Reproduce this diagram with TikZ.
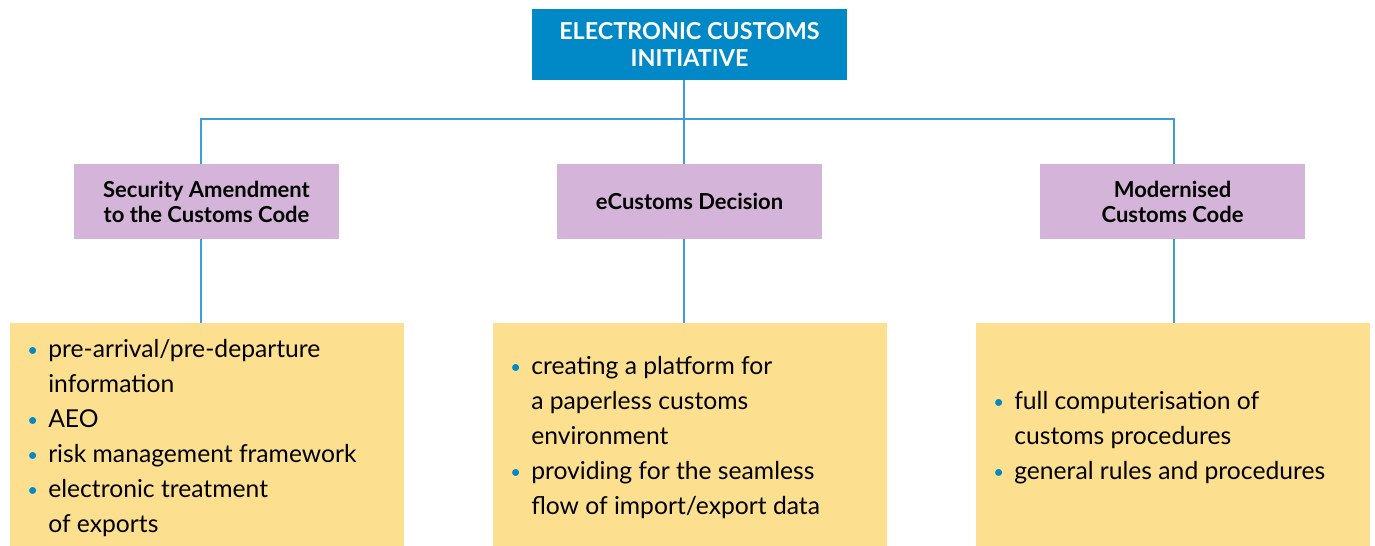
\documentclass[tikz,border=0pt]{standalone}
\usepackage{fontspec}
\setmainfont{Lato}
\definecolor{topblue}{HTML}{0088C7}
\definecolor{lineblue}{HTML}{3D9DD8}
\definecolor{lilac}{HTML}{D4B4D8}
\definecolor{sand}{HTML}{FDE08F}
\newcommand{\bul}{\makebox[15.75pt][l]{\raisebox{1pt}{\textcolor{topblue}{\scalebox{0.75}{\textbullet}}}}}
\newcommand{\ind}{\hspace*{15.75pt}}
\tikzset{
  topbox/.style={fill=topblue, text=white, font=\fontsize{17.5}{20.25}\selectfont\bfseries, align=center, minimum width=236.25pt, minimum height=53.25pt, inner sep=0pt},
  midbox/.style={fill=lilac, text=black, font=\fontsize{16.5}{18.75}\selectfont\bfseries, align=center, minimum width=198.75pt, minimum height=56.25pt, inner sep=0pt},
  listbox/.style={fill=sand, minimum width=295.5pt, minimum height=167.25pt, inner sep=0pt},
  listtext/.style={anchor=west, align=left, inner sep=0pt, font=\fontsize{18.5}{26.25}\selectfont},
  conn/.style={draw=lineblue, line width=1.125pt}
}
\begin{document}
\begin{tikzpicture}[x=0.75pt, y=-0.75pt]
\useasboundingbox (0,0) rectangle (1375,546);
\node[topbox] (top) at (689.5,44.5) {ELECTRONIC CUSTOMS\\INITIATIVE};
\node[midbox] (sa) at (206.5,201.5) {Security Amendment\\to the Customs Code};
\node[midbox] (ec) at (689.5,201.5) {eCustoms Decision};
\node[midbox] (mc) at (1172.5,201.5) {Modernised\\Customs Code};
\node[listbox] (y1) at (207,434.5) {};
\node[listbox] (y2) at (690,434.5) {};
\node[listbox] (y3) at (1173,434.5) {};
\coordinate (j) at (684,119);
\coordinate (cl) at (201,0);
\coordinate (cr) at (1174,0);
\draw[conn] (top.south -| j) -- (j);
\draw[conn] (sa.north -| cl) |- (j) -| (mc.north -| cr);
\draw[conn] (j) -- (ec.north -| j);
\draw[conn] (sa.south -| cl) -- (y1.north -| cl);
\draw[conn] (ec.south -| j) -- (y2.north -| j);
\draw[conn] (mc.south -| cr) -- (y3.north -| cr);
\node[listtext] (t1) at (27,438) {\bul pre-arrival/pre-departure\\\ind information\\\bul AEO\\\bul risk management framework\\\bul electronic treatment\\\ind of exports};
\node[listtext] (t2) at (510,438) {\bul creating a platform for\\\ind a paperless customs\\\ind environment\\\bul providing for the seamless\\\ind flow of import/export data};
\node[listtext] (t3) at (993,438) {\bul full computerisation of\\\ind customs procedures\\\bul general rules and procedures};
\end{tikzpicture}
\end{document}
